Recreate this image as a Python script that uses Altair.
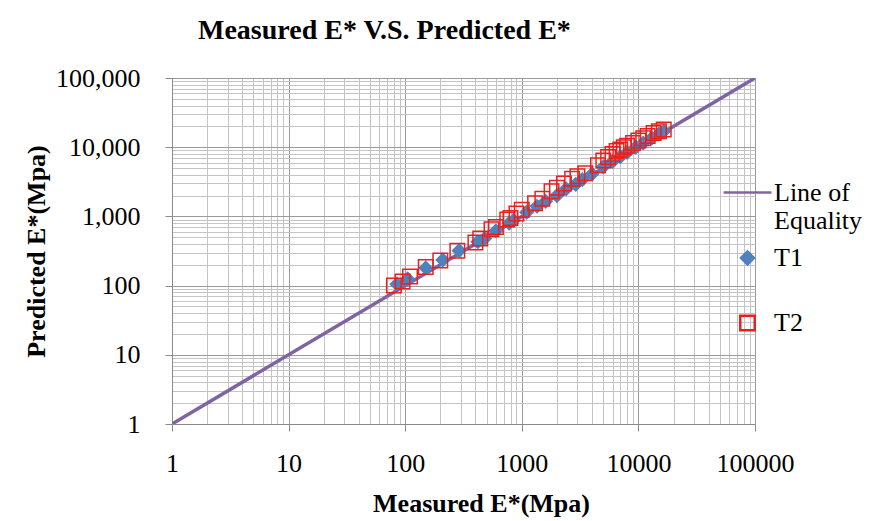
import altair as alt
import pandas as pd

# ---- data ----
t1_measured = [85, 105, 150, 210, 290, 420, 480, 600, 780, 850, 1100, 1350, 1600,
               2000, 2400, 2900, 3300, 4000, 5000, 6000, 7000, 8000, 9500, 11000,
               13000, 15000, 16500]
t1_predicted = [105, 125, 180, 235, 320, 430, 480, 620, 800, 880, 1150, 1400, 1650,
                2000, 2500, 2900, 3400, 4100, 5200, 6200, 7300, 8400, 10000, 11500,
                13500, 15500, 17000]
t2_measured = [80, 95, 110, 150, 200, 280, 400, 440, 550, 600, 750, 800, 900, 1000,
               1300, 1500, 1800, 2000, 2300, 2700, 3000, 3500, 4500, 5000, 5500, 6000,
               6500, 7000, 7500, 8000, 9000, 10000, 11000, 12000, 13500, 15000, 16500]
t2_predicted = [100, 115, 135, 185, 230, 320, 420, 480, 650, 700, 900, 950, 1100, 1250,
                1550, 1800, 2300, 2600, 3000, 3500, 3800, 4200, 5500, 6400, 7200, 8000,
                8800, 9300, 10000, 10500, 11500, 12500, 13500, 14500, 16000, 17000, 18000]
equality_x = [1, 100000]
equality_y = [1, 100000]

series = ["Line of Equality", "T1", "T2"]
colors = ["#8064A2", "#4F81BD", "#E8201E"]
fills = ["transparent", "#4F81BD", "transparent"]
shapes = ["stroke", "diamond", "square"]
sizes = [2300, 170, 210]

grid_values = [m * 10 ** k for k in range(5) for m in range(1, 10)] + [100000]

df_line = pd.DataFrame({"x": equality_x, "y": equality_y, "series": "Line of Equality"})
df_t1 = pd.DataFrame({"x": t1_measured, "y": t1_predicted, "series": "T1"})
df_t2 = pd.DataFrame({"x": t2_measured, "y": t2_predicted, "series": "T2"})

major_test = "abs(log(datum.value)/LN10 - round(log(datum.value)/LN10)) < 0.001"
FONT = "Liberation Serif"

x_scale = alt.Scale(type="log", domain=[1, 100000], nice=False)
y_scale = alt.Scale(type="log", domain=[1, 100000], nice=False)

x_axis = alt.Axis(
    values=grid_values,
    labelExpr=f"{major_test} ? format(datum.value, 'd') : ''",
    title="Measured E*(Mpa)",
    tickSize={"condition": {"test": major_test, "value": 7}, "value": 0},
    gridColor={"condition": {"test": major_test, "value": "#9a9a9a"}, "value": "#c4c4c4"},
    labelPadding=19,
    titlePadding=14,
    titleX=309,
    labelFlush=False,
    labelOverlap=False,
)
y_axis = alt.Axis(
    values=grid_values,
    labelExpr=f"{major_test} ? format(datum.value, ',') : ''",
    title="Predicted E*(Mpa)",
    tickSize={"condition": {"test": major_test, "value": 7}, "value": 0},
    gridColor={"condition": {"test": major_test, "value": "#9a9a9a"}, "value": "#c4c4c4"},
    labelPadding=25,
    titlePadding=6,
    labelFlush=False,
    labelOverlap=False,
)

legend = alt.Legend(
    title=None,
    orient="none",
    legendX=550,
    legendY=89,
    labelFont=FONT,
    labelFontSize=26,
    labelColor="black",
    symbolStrokeWidth=2.5,
    rowPadding=11,
    labelOffset=1,
    labelExpr=("datum.label == 'Line of Equality' ? ['Line of', 'Equality'] : "
               "datum.label == 'T1' ? ['T1', ''] : datum.label"),
)

color_scale = alt.Scale(domain=series, range=colors)
fill_scale = alt.Scale(domain=series, range=fills)
shape_scale = alt.Scale(domain=series, range=shapes)
size_scale = alt.Scale(type="ordinal", domain=series, range=sizes)

line = alt.Chart(df_line).mark_line(strokeWidth=3.5, clip=True).encode(
    x=alt.X("x:Q", scale=x_scale, axis=x_axis),
    y=alt.Y("y:Q", scale=y_scale, axis=y_axis),
    stroke=alt.Stroke("series:N", scale=color_scale, legend=legend),
)

t1 = alt.Chart(df_t1).mark_point(filled=True, opacity=1, strokeWidth=1.5).encode(
    x="x:Q", y="y:Q",
    stroke=alt.Stroke("series:N", scale=color_scale, legend=legend),
    fill=alt.Fill("series:N", scale=fill_scale, legend=legend),
    shape=alt.Shape("series:N", scale=shape_scale, legend=legend),
    size=alt.Size("series:N", scale=size_scale, legend=legend),
)

t2 = alt.Chart(df_t2).mark_point(filled=False, strokeWidth=1.5, opacity=1).encode(
    x="x:Q", y="y:Q",
    stroke=alt.Stroke("series:N", scale=color_scale, legend=legend),
    fill=alt.Fill("series:N", scale=fill_scale, legend=legend),
    shape=alt.Shape("series:N", scale=shape_scale, legend=legend),
    size=alt.Size("series:N", scale=size_scale, legend=legend),
)

chart = alt.layer(line, t1, t2).properties(
    width=583,
    height=346,
    background="white",
    title=alt.Title("Measured E* V.S. Predicted E*", anchor="start", frame="group",
                    dx=26, offset=20,
                    font=FONT, fontSize=28, fontWeight="bold", color="black"),
    autosize=alt.AutoSizeParams(type="none"),
    padding={"left": 164, "top": 70, "right": 112, "bottom": 97},
).configure_axis(
    labelFont=FONT, labelFontSize=26, labelColor="black",
    titleFont=FONT, titleFontSize=26, titleFontWeight="bold", titleColor="black",
    domainColor="#8a8a8a", tickColor="#8a8a8a", gridWidth=1, gridOpacity=1,
).configure_view(stroke="#8a8a8a")

chart.save("out.html", embed_options={"renderer": "svg", "actions": False})
